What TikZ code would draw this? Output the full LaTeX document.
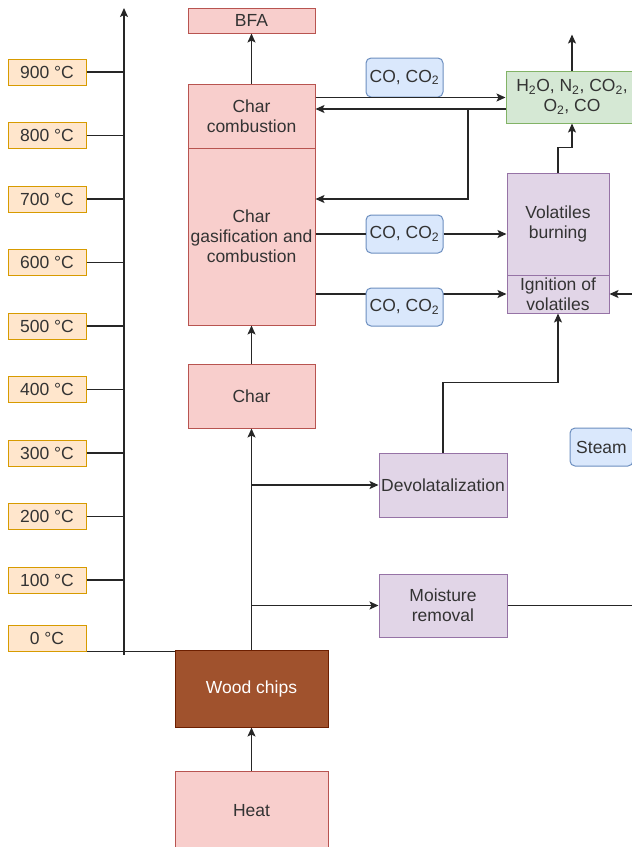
\documentclass[tikz,border=0pt]{standalone}
\usepackage{fontspec}
\setmainfont{Liberation Sans}
\usetikzlibrary{arrows.meta}
\definecolor{txtgray}{HTML}{333333}
\definecolor{redfill}{HTML}{F8CECC}
\definecolor{redline}{HTML}{B85450}
\definecolor{tempfill}{HTML}{FFE6CC}
\definecolor{templine}{HTML}{D79B00}
\definecolor{bluefill}{HTML}{DAE8FC}
\definecolor{blueline}{HTML}{6C8EBF}
\definecolor{violetfill}{HTML}{E1D5E7}
\definecolor{violetline}{HTML}{9673A6}
\definecolor{greenfill}{HTML}{D5E8D4}
\definecolor{greenline}{HTML}{82B366}
\definecolor{woodfill}{HTML}{A0522D}
\definecolor{woodline}{HTML}{6D1F00}
\tikzset{
  box/.style={draw, rectangle, inner sep=0pt, align=center, line width=1pt},
  redbox/.style={box, fill=redfill, draw=redline, minimum width=127pt},
  tempbox/.style={box, fill=tempfill, draw=templine, minimum width=78pt, minimum height=26pt},
  gasbox/.style={box, rounded corners=5pt, fill=bluefill, draw=blueline, minimum width=77pt, minimum height=38pt},
  violetbox/.style={box, fill=violetfill, draw=violetline},
  greenbox/.style={box, fill=greenfill, draw=greenline},
  woodbox/.style={box, fill=woodfill, draw=woodline, text=white},
  flow/.style={line width=1.4pt, draw=black!85}
}
\begin{document}
\begin{tikzpicture}[x=1pt,y=-1pt,>={Stealth[length=9pt,width=8pt,inset=2pt]},
  every node/.append style={font=\fontsize{17.5}{20}\selectfont, text=txtgray}]
\useasboundingbox (0,0) rectangle (632,847);
\clip (0,0) rectangle (632,847);
% reactor column
\node[redbox, minimum height=25pt] (bfa) at (251.5,20.5) {BFA};
\node[redbox, minimum height=64pt] (comb) at (251.5,116) {Char\\combustion};
\node[redbox, minimum height=177pt] (gasi) at (251.5,236.5) {Char\\gasification and\\combustion};
\node[redbox, minimum height=64pt] (char) at (251.5,396) {Char};
\node[woodbox, minimum width=153pt, minimum height=77pt] (wood) at (251.5,688.5) {Wood chips};
\node[redbox, minimum width=153pt, minimum height=80pt] (heat) at (251.5,811) {Heat};
% volatiles side
\node[violetbox, minimum width=128pt, minimum height=64pt] (devo) at (443,485) {Devolatalization};
\node[violetbox, minimum width=128pt, minimum height=63pt] (moist) at (443,605.5) {Moisture\\removal};
\node[violetbox, minimum width=102pt, minimum height=102pt] (vola) at (558,224) {Volatiles\\burning};
\node[violetbox, minimum width=102pt, minimum height=38pt] (igni) at (558,294) {Ignition of\\volatiles};
\node[greenbox, minimum width=132pt, minimum height=52pt] (gases) at (572,97)
  {H\textsubscript{2}O, N\textsubscript{2}, CO\textsubscript{2},\\O\textsubscript{2}, CO};
\node[gasbox, minimum height=39pt] (co1) at (404.5,77.5) {CO, CO\textsubscript{2}};
\node[gasbox] (co2) at (404.5,234) {CO, CO\textsubscript{2}};
\node[gasbox, minimum width=63pt] (steam) at (601.5,447) {Steam};
% temperature axis
\coordinate (axbot) at (124,655);
\coordinate (axtop) at (124,8);
\draw[flow,->] (axbot) -- (axtop);
\foreach \t [count=\i from 0] in {100,200,...,900}{
  \node[tempbox] (t\t) at (47,{580-63.5*\i}) {\t~°C};
  \draw[flow] (t\t.east) -- (t\t.east -| axtop);
}
\node[tempbox] (t0) at (47,638) {0~°C};
\draw[flow] (t0.south east) -- (t0.south east -| wood.west);
% main column flows
\draw[flow,->] (heat.north) -- (wood.south);
\draw[flow,->] (wood.north) -- (char.south);
\draw[flow,->] (char.north) -- (gasi.south);
\draw[flow,->] (comb.north) -- (bfa.south);
\draw[flow,->] (wood.north |- devo) -- (devo.west);
\draw[flow,->] (wood.north |- moist) -- (moist.west);
% gas flows
\coordinate (split) at (468,109);
\draw[flow,->] (comb.east |- co1.south) -- (gases.west |- co1.south);
\draw[flow,->] (gases.west |- split) -- (comb.east |- split);
\draw[flow,->] (split) |- (gasi.east |- 0,199);
\draw[flow] (gasi.east |- co2) -- (co2.west);
\draw[flow,->] (co2.east) -- (vola.west |- co2);
\draw[flow,->] (gasi.east |- igni) -- (igni.west);
\node[gasbox] (co3) at (404.5,307) {CO, CO\textsubscript{2}};
\draw[flow,->] (vola.north) -- ++(0,-25) -| (gases.south);
\draw[flow,->] (gases.north) -- ++(0,-36);
\draw[flow,->] (devo.north) -- ++(0,-70) -| (igni.south);
\coordinate (steamin) at (640,294);
\draw[flow,->] (steamin) -- (igni.east);
\coordinate (moistout) at (640,605.5);
\draw[flow] (moist.east) -- (moistout);
\end{tikzpicture}
\end{document}
